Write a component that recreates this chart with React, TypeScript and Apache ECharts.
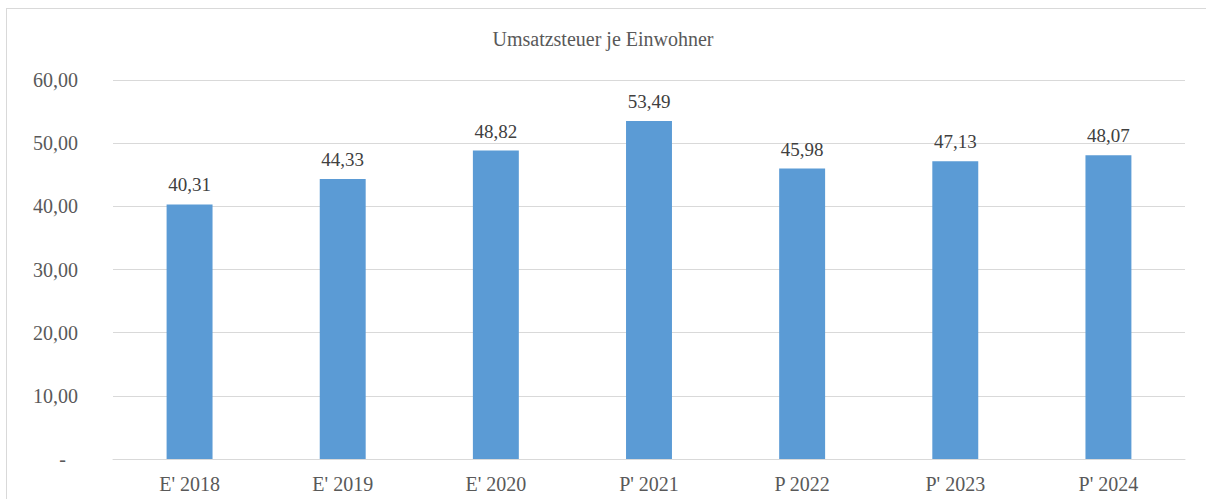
import React, { useEffect, useRef } from "react";
import * as echarts from "echarts";

const categories = ["E' 2018", "E' 2019", "E' 2020", "P' 2021", "P 2022", "P' 2023", "P' 2024"];
const values = [40.31, 44.33, 48.82, 53.49, 45.98, 47.13, 48.07];
const titleText = "Umsatzsteuer je Einwohner";

const fmt = (v: number) => v.toFixed(2).replace(".", ",");

export default function App() {
  const ref = useRef<HTMLDivElement>(null);
  useEffect(() => {
    document.body.style.margin = "0";
    document.documentElement.style.overflow = "hidden";
    const chart = echarts.init(ref.current!, null, { renderer: "svg" });
    const font = "Liberation Serif";
    chart.setOption({
      animation: false,
      backgroundColor: "#ffffff",
      textStyle: { fontFamily: font },
      title: {
        text: titleText,
        left: "center",
        top: 24,
        textStyle: { fontFamily: font, fontSize: 20, fontWeight: "normal", color: "#595959" },
      },
      graphic: [
        {
          type: "line",
          shape: { x1: 6, y1: 8.5, x2: 1206, y2: 8.5 },
          style: { stroke: "#d9d9d9", lineWidth: 1 },
          silent: true,
        },
        {
          type: "line",
          shape: { x1: 6.5, y1: 8, x2: 6.5, y2: 499 },
          style: { stroke: "#d9d9d9", lineWidth: 1 },
          silent: true,
        },
      ],
      grid: { left: 113, right: 21, top: 80, bottom: 40 },
      xAxis: {
        type: "category",
        data: categories,
        axisLine: { lineStyle: { color: "#d9d9d9" } },
        axisTick: { show: false },
        axisLabel: { color: "#595959", fontSize: 20, fontFamily: font, margin: 15 },
      },
      yAxis: {
        type: "value",
        min: 0,
        max: 60,
        interval: 10,
        axisLine: { show: false },
        axisTick: { show: false },
        splitLine: { lineStyle: { color: "#d9d9d9" } },
        axisLabel: {
          color: "#595959",
          fontSize: 20,
          fontFamily: font,
          margin: 35,
          formatter: (v: number) => (v === 0 ? "{d|-}" : fmt(v)),
          rich: { d: { color: "#595959", fontSize: 20, fontFamily: font, padding: [0, 12, 0, 0] } },
        },
      },
      series: [
        {
          type: "bar",
          data: values,
          barWidth: "30%",
          itemStyle: { color: "#5B9BD5" },
          label: {
            show: true,
            position: "top",
            distance: 10,
            color: "#404040",
            fontSize: 19,
            fontFamily: font,
            formatter: (p: any) => fmt(p.value),
          },
        },
      ],
    });
    return () => chart.dispose();
  }, []);
  return <div ref={ref} style={{ width: 1206, height: 499 }} />;
}
